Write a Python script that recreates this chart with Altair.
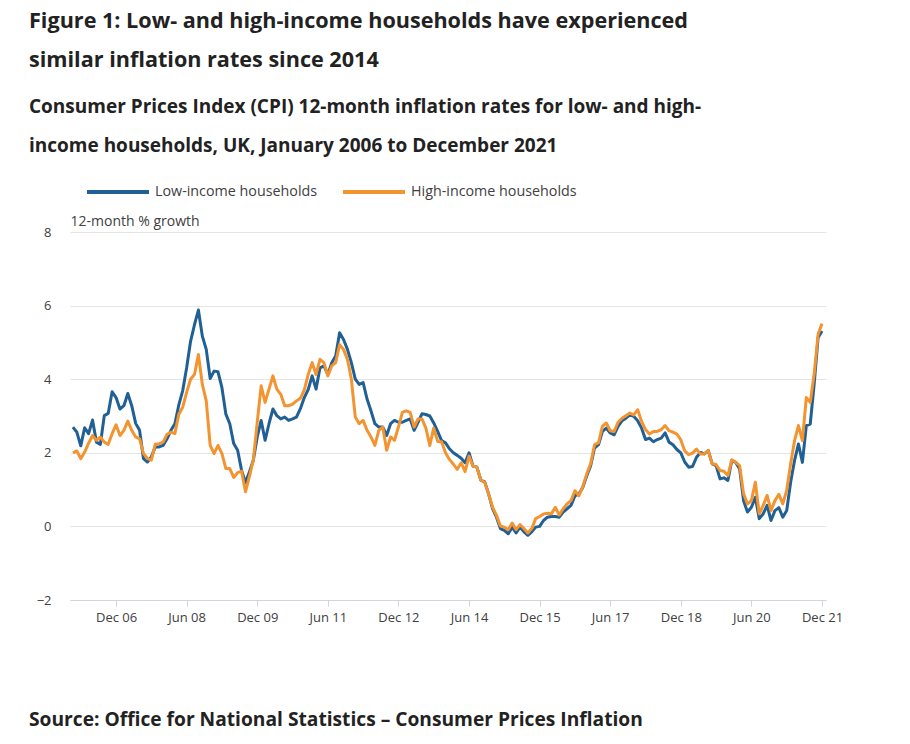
import altair as alt
import pandas as pd

months = pd.date_range("2006-01-01", periods=192, freq="MS").strftime("%b %y").tolist()

low_income = [
    2.70, 2.56, 2.19, 2.68, 2.52, 2.89, 2.29, 2.23, 3.01, 3.07, 3.66, 3.50,
    3.19, 3.28, 3.61, 3.28, 2.80, 2.61, 1.84, 1.75, 1.89, 2.16, 2.16, 2.20,
    2.38, 2.61, 2.79, 3.30, 3.69, 4.31, 5.03, 5.48, 5.88, 5.17, 4.81, 4.02,
    4.22, 4.20, 3.77, 3.05, 2.79, 2.25, 2.07, 1.53, 1.19, 1.48, 1.80, 2.43,
    2.88, 2.34, 2.79, 3.19, 3.01, 2.92, 2.97, 2.88, 2.92, 2.97, 3.20, 3.50,
    3.72, 4.09, 3.73, 4.31, 4.36, 4.13, 4.45, 4.63, 5.26, 5.08, 4.81, 4.45,
    4.00, 3.86, 3.91, 3.46, 3.14, 2.79, 2.70, 2.70, 2.47, 2.79, 2.88, 2.83,
    2.83, 2.88, 2.92, 2.61, 2.83, 3.06, 3.04, 3.00, 2.81, 2.58, 2.33, 2.27,
    2.11, 2.00, 1.93, 1.85, 1.73, 2.00, 1.64, 1.61, 1.26, 1.21, 0.88, 0.48,
    0.25, -0.06, -0.11, -0.20, -0.02, -0.18, -0.02, -0.15, -0.24, -0.15, -0.02, 0.00,
    0.16, 0.25, 0.27, 0.27, 0.25, 0.39, 0.48, 0.57, 0.83, 0.88, 1.06, 1.37,
    1.64, 2.13, 2.22, 2.58, 2.67, 2.54, 2.49, 2.72, 2.87, 2.94, 3.03, 2.99,
    2.87, 2.67, 2.36, 2.40, 2.30, 2.36, 2.40, 2.54, 2.29, 2.22, 2.09, 2.00,
    1.75, 1.61, 1.63, 1.88, 2.01, 1.97, 2.06, 1.70, 1.65, 1.29, 1.32, 1.25,
    1.79, 1.74, 1.56, 0.70, 0.39, 0.52, 0.79, 0.21, 0.34, 0.57, 0.16, 0.43,
    0.51, 0.25, 0.43, 1.20, 1.79, 2.24, 1.74, 2.74, 2.78, 3.87, 5.13, 5.31,
]

high_income = [
    2.00, 2.05, 1.84, 2.02, 2.26, 2.47, 2.34, 2.43, 2.29, 2.23, 2.52, 2.76,
    2.47, 2.61, 2.86, 2.61, 2.43, 2.38, 1.98, 1.84, 1.80, 2.23, 2.25, 2.29,
    2.50, 2.56, 2.52, 3.05, 3.24, 3.64, 4.00, 4.13, 4.67, 3.86, 3.41, 2.20,
    1.98, 2.20, 1.98, 1.57, 1.57, 1.33, 1.46, 1.50, 0.94, 1.35, 1.80, 2.83,
    3.82, 3.37, 3.73, 4.09, 3.73, 3.59, 3.28, 3.28, 3.32, 3.41, 3.48, 3.71,
    4.13, 4.45, 4.13, 4.54, 4.45, 4.09, 4.36, 4.45, 4.94, 4.81, 4.54, 4.00,
    2.97, 2.79, 2.88, 2.61, 2.43, 2.20, 2.61, 2.70, 2.07, 2.43, 2.34, 2.70,
    3.10, 3.14, 3.10, 2.70, 2.92, 2.92, 2.67, 2.20, 2.67, 2.31, 2.30, 2.00,
    1.82, 1.69, 1.55, 1.73, 1.49, 1.91, 1.64, 1.61, 1.26, 1.19, 0.88, 0.52,
    0.30, 0.01, -0.02, -0.09, 0.09, -0.09, 0.05, -0.06, -0.18, -0.06, 0.21, 0.27,
    0.34, 0.36, 0.34, 0.52, 0.31, 0.48, 0.61, 0.70, 0.97, 0.83, 1.08, 1.42,
    1.70, 2.22, 2.27, 2.72, 2.81, 2.60, 2.58, 2.83, 2.94, 3.01, 3.08, 3.03,
    3.17, 2.85, 2.63, 2.51, 2.58, 2.58, 2.63, 2.74, 2.60, 2.56, 2.51, 2.35,
    2.05, 1.95, 1.99, 2.10, 1.97, 1.97, 2.06, 1.70, 1.68, 1.52, 1.50, 1.38,
    1.81, 1.74, 1.65, 0.89, 0.61, 0.70, 1.20, 0.34, 0.57, 0.84, 0.43, 0.70,
    0.87, 0.61, 0.98, 1.70, 2.33, 2.74, 2.33, 3.50, 3.37, 4.14, 5.22, 5.51,
]

series_names = ["Low-income households", "High-income households"]
series_colors = ["#206095", "#F39431"]

tick_labels = ["Dec 06", "Jun 08", "Dec 09", "Jun 11", "Dec 12", "Jun 14",
               "Dec 15", "Jun 17", "Dec 18", "Jun 20", "Dec 21"]
tick_index = [months.index(t) for t in tick_labels]
y_ticks = [-2, 0, 2, 4, 6, 8]

title_lines = ["Figure 1: Low- and high-income households have experienced",
               "similar inflation rates since 2014"]
subtitle_lines = ["Consumer Prices Index (CPI) 12-month inflation rates for low- and high-",
                  "income households, UK, January 2006 to December 2021"]
source_text = "Source: Office for National Statistics \u2013 Consumer Prices Inflation"

rows = []
for name, vals in zip(series_names, [low_income, high_income]):
    for i, v in enumerate(vals):
        rows.append({"idx": i, "month": months[i], "series": name, "value": v})
df = pd.DataFrame(rows)

FONT = "Open Sans"
TEXT_GREY = "#414042"

label_expr = ("[" + ",".join("'" + t + "'" for t in tick_labels) + "][indexof(["
              + ",".join(str(v) for v in tick_index) + "], datum.value)]")

lines = alt.Chart(df).mark_line(strokeWidth=3, strokeJoin="round").encode(
    x=alt.X("idx:Q",
            scale=alt.Scale(domain=[-0.74, 192.02], nice=False, zero=False),
            axis=alt.Axis(values=tick_index, labelExpr=label_expr, title=None,
                          grid=False, domain=True, domainColor="#d0d4dc",
                          domainWidth=1, ticks=True, tickColor="#d0d4dc",
                          tickSize=6, labelPadding=5, labelFontSize=13,
                          labelColor=TEXT_GREY, labelFont=FONT)),
    y=alt.Y("value:Q",
            scale=alt.Scale(domain=[-2, 8], nice=False, zero=False),
            axis=alt.Axis(values=y_ticks, title="12-month % growth",
                          titleAngle=0, titleAlign="left", titleX=0, titleY=-7,
                          titleBaseline="alphabetic", titleFontWeight="normal",
                          titleFontSize=14, titleColor=TEXT_GREY, titleFont=FONT,
                          grid=True, gridColor="#e4e4e4", domain=False,
                          ticks=False, labelPadding=19, labelFontSize=13,
                          labelColor=TEXT_GREY, labelFont=FONT)),
    color=alt.Color("series:N",
                    scale=alt.Scale(domain=series_names, range=series_colors),
                    sort=series_names,
                    legend=alt.Legend(title=None, orient="none", legendX=15,
                                      legendY=-73, direction="horizontal",
                                      symbolType="stroke", symbolSize=3844,
                                      symbolStrokeWidth=4, labelFontSize=14.3,
                                      labelColor=TEXT_GREY, labelFont=FONT,
                                      labelOffset=4, columnPadding=17,
                                      labelLimit=400)),
    order=alt.Order("idx:Q"),
)

source = alt.Chart(pd.DataFrame({"t": [source_text]})).mark_text(
    align="left", baseline="middle", fontSize=19.2, fontWeight="bold",
    font=FONT, color="#222222"
).encode(text="t:N", x=alt.value(-41), y=alt.value(488))

chart = alt.layer(lines, source).properties(
    width=756,
    height=368,
    autosize=alt.AutoSizeParams(type="none"),
    padding={"left": 62, "top": 224, "right": 60, "bottom": 136},
    title=alt.TitleParams(
        text=title_lines,
        subtitle=subtitle_lines,
        anchor="start",
        frame="group",
        dx=-41,
        offset=3,
        font=FONT,
        fontSize=21.6,
        fontWeight="bold",
        color="#222222",
        lineHeight=39,
        subtitleFont=FONT,
        subtitleFontSize=19,
        subtitleFontWeight="bold",
        subtitleColor="#222222",
        subtitleLineHeight=39,
        subtitlePadding=26,
    ),
).configure_view(stroke=None)

chart.save("out.html", embed_options={"renderer": "svg", "actions": False})
